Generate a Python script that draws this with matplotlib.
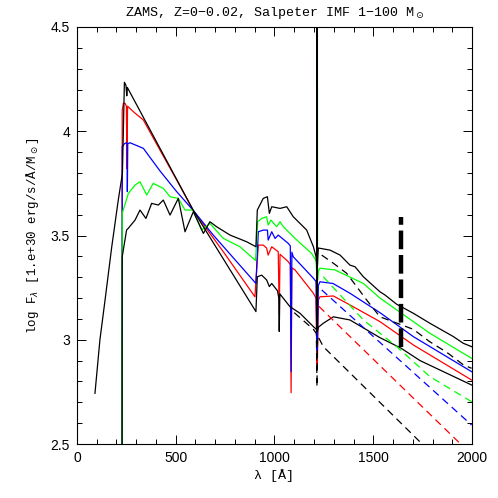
import matplotlib
matplotlib.use("Agg")
import matplotlib.pyplot as plt
from matplotlib.ticker import MultipleLocator, FuncFormatter

# Lyman-alpha emission spike, drawn above the plot top
LYA = 5.0
FLOOR = 2.0  # no flux below 228 A

# Z=0 (hot, black, with nebular continuum)
Z0_X = [91, 116, 142, 176, 209, 230, 240, 248, 252, 255, 589, 906, 913, 935, 960,
        974, 986, 1015, 1022, 1024, 1027, 1078, 1129, 1197, 1212, 1215, 1216,
        1217, 1222, 1247, 1298, 1382, 1534, 1640, 1737, 1998]
Z0_Y = [2.743, 2.999, 3.19, 3.446, 3.67, 3.798, 4.235, 4.22, 4.17, 4.21, 3.62,
        3.135, 3.302, 3.31, 3.287, 3.255, 3.27, 3.235, 3.2, 3.04, 3.22, 3.159,
        3.127, 3.063, 3.05, 3.04, LYA, 3.04, 3.06, 3.079, 3.11, 3.095, 3.01,
        2.96, 2.9, 2.783]

# red
RED_X = [228, 229, 235, 243, 250, 253, 256, 290, 336, 420, 505, 589, 750, 901,
         918, 943, 960, 968, 986, 1019, 1024, 1028, 1070, 1080, 1084, 1088, 1104,
         1197, 1210, 1215, 1216, 1217, 1222, 1230, 1298, 1382, 1534, 1703, 1998]
RED_Y = [FLOOR, 4.10, 4.134, 4.134, 4.12, 3.82, 4.12, 4.09, 4.054, 3.91, 3.766,
         3.62, 3.41, 3.206, 3.454, 3.454, 3.44, 3.406, 3.446, 3.422, 3.12, 3.41,
         3.374, 3.36, 2.746, 3.345, 3.335, 3.223, 3.2, 2.88, LYA, 2.88, 3.19,
         3.206, 3.21, 3.167, 3.087, 2.975, 2.807]

# blue
BLUE_X = [228, 229, 240, 250, 254, 255, 257, 268, 336, 420, 505, 589, 690, 906,
          918, 943, 964, 968, 986, 1003, 1019, 1070, 1080, 1084, 1088, 1095, 1197,
          1210, 1215, 1216, 1217, 1222, 1230, 1296, 1382, 1534, 1703, 1998]
BLUE_Y = [FLOOR, 3.926, 3.94, 3.945, 3.94, 3.71, 3.94, 3.945, 3.918, 3.81, 3.71,
          3.62, 3.502, 3.27, 3.518, 3.526, 3.526, 3.478, 3.518, 3.486, 3.502,
          3.462, 3.45, 2.847, 3.42, 3.398, 3.295, 3.28, 2.95, LYA, 2.95, 3.26,
          3.278, 3.27, 3.223, 3.13, 3.015, 2.847]

# green
GREEN_X = [228, 229, 260, 294, 319, 353, 386, 437, 471, 513, 547, 589, 631, 673,
           741, 825, 904, 915, 935, 960, 968, 982, 1011, 1028, 1045, 1104, 1188,
           1210, 1216, 1217, 1218, 1222, 1230, 1306, 1450, 1534, 1619, 1787, 1998]
GREEN_Y = [FLOOR, 3.606, 3.702, 3.742, 3.758, 3.694, 3.75, 3.726, 3.686, 3.678,
           3.622, 3.622, 3.526, 3.558, 3.486, 3.446, 3.38, 3.566, 3.582, 3.59,
           3.55, 3.574, 3.542, 3.566, 3.542, 3.486, 3.414, 3.38, 3.287, LYA,
           3.287, 3.33, 3.343, 3.335, 3.27, 3.2, 3.143, 3.031, 2.911]

# Z=0.02 (black, with nebular continuum)
Z02_X = [228, 229, 251, 260, 294, 319, 349, 378, 412, 437, 471, 513, 547, 589,
         640, 673, 707, 775, 859, 906, 913, 943, 964, 974, 986, 1028, 1062, 1095,
         1163, 1197, 1210, 1215, 1216, 1217, 1222, 1281, 1332, 1382, 1408, 1450,
         1534, 1559, 1619, 1703, 1787, 1906, 1956, 1998]
Z02_Y = [FLOOR, 3.398, 3.526, 3.535, 3.574, 3.622, 3.582, 3.654, 3.646, 3.67,
         3.598, 3.678, 3.518, 3.614, 3.51, 3.566, 3.542, 3.502, 3.47, 3.446,
         3.622, 3.678, 3.686, 3.606, 3.638, 3.63, 3.638, 3.59, 3.526, 3.446,
         3.40, 3.35, LYA, 3.35, 3.44, 3.43, 3.406, 3.358, 3.35, 3.302, 3.23,
         3.215, 3.17, 3.127, 3.079, 3.015, 2.983, 2.967]

# stellar-only spectra (dashed)
Z0_STAR_X = [1100, 1197, 1212, 1215, 1218, 1247, 1753]
Z0_STAR_Y = [3.13, 3.05, 3.03, 2.775, 3.02, 2.967, 2.495]
RED_STAR_X = [1225, 1939]
RED_STAR_Y = [3.16, 2.503]
BLUE_STAR_X = [1239, 1998]
BLUE_STAR_Y = [3.239, 2.591]
GREEN_STAR_X = [1247, 1450, 1619, 1787, 1998]
GREEN_STAR_Y = [3.302, 3.095, 2.967, 2.823, 2.703]
Z02_STAR_X = [1239, 1298, 1365, 1416, 1467, 1534, 1619, 1703, 1787, 1872, 1956, 1998]
Z02_STAR_Y = [3.406, 3.367, 3.319, 3.255, 3.19, 3.11, 3.08, 3.05, 2.99, 2.94, 2.88, 2.863]

# He II 1640 line
HEII_X = [1640, 1640]
HEII_Y = [2.967, 3.59]

MONO = "Liberation Mono"

fig = plt.figure(figsize=(4.98, 4.98), dpi=100)
ax = fig.add_axes([0.1546, 0.1084, 0.7932, 0.8374])

lw = 0.9
dash = (0, (6, 4))
ax.plot(RED_X, RED_Y, color="red", lw=lw)
ax.plot(BLUE_X, BLUE_Y, color="blue", lw=lw)
ax.plot(GREEN_X, GREEN_Y, color="#00ff00", lw=lw)
ax.plot(Z0_X, Z0_Y, color="black", lw=lw)
ax.plot(Z02_X, Z02_Y, color="black", lw=lw)

ax.plot(RED_STAR_X, RED_STAR_Y, color="red", lw=lw, ls=dash)
ax.plot(BLUE_STAR_X, BLUE_STAR_Y, color="blue", lw=lw, ls=dash)
ax.plot(GREEN_STAR_X, GREEN_STAR_Y, color="#00ff00", lw=lw, ls=dash)
ax.plot(Z0_STAR_X, Z0_STAR_Y, color="black", lw=lw, ls=dash)
ax.plot(Z02_STAR_X, Z02_STAR_Y, color="black", lw=lw, ls=dash)

ax.plot(HEII_X, HEII_Y, color="black", lw=3.2, ls=(0, (4.2, 1.3)), solid_capstyle="butt")

ax.set_xlim(0, 2000)
ax.set_ylim(2.5, 4.5)
ax.xaxis.set_major_locator(MultipleLocator(500))
ax.xaxis.set_minor_locator(MultipleLocator(100))
ax.yaxis.set_major_locator(MultipleLocator(0.5))
ax.yaxis.set_minor_locator(MultipleLocator(0.1))
ax.yaxis.set_major_formatter(FuncFormatter(lambda v, _: f"{v:g}"))
ax.tick_params(which="both", direction="in", top=True, right=True, width=0.7)
ax.tick_params(which="major", length=6.5, pad=5, labelsize=10)
ax.tick_params(which="minor", length=3.6)
for lab in ax.get_xticklabels() + ax.get_yticklabels():
    lab.set_fontfamily("Liberation Sans")
for sp in ax.spines.values():
    sp.set_linewidth(0.8)

ax.set_title("ZAMS, Z=0\u22120.02, Salpeter IMF 1\u2212100 M$_\\odot$",
             fontfamily=MONO, fontsize=9.6, pad=8)
ax.set_xlabel("\u03bb [\u00c5]", fontfamily=MONO, fontsize=9.6, labelpad=3)
ax.set_ylabel("log F$_\\lambda$ [1.e+30 erg/s/\u00c5/M$_\\odot$]",
              fontfamily=MONO, fontsize=9.0, labelpad=7)

fig.savefig("out.png", dpi=100)
